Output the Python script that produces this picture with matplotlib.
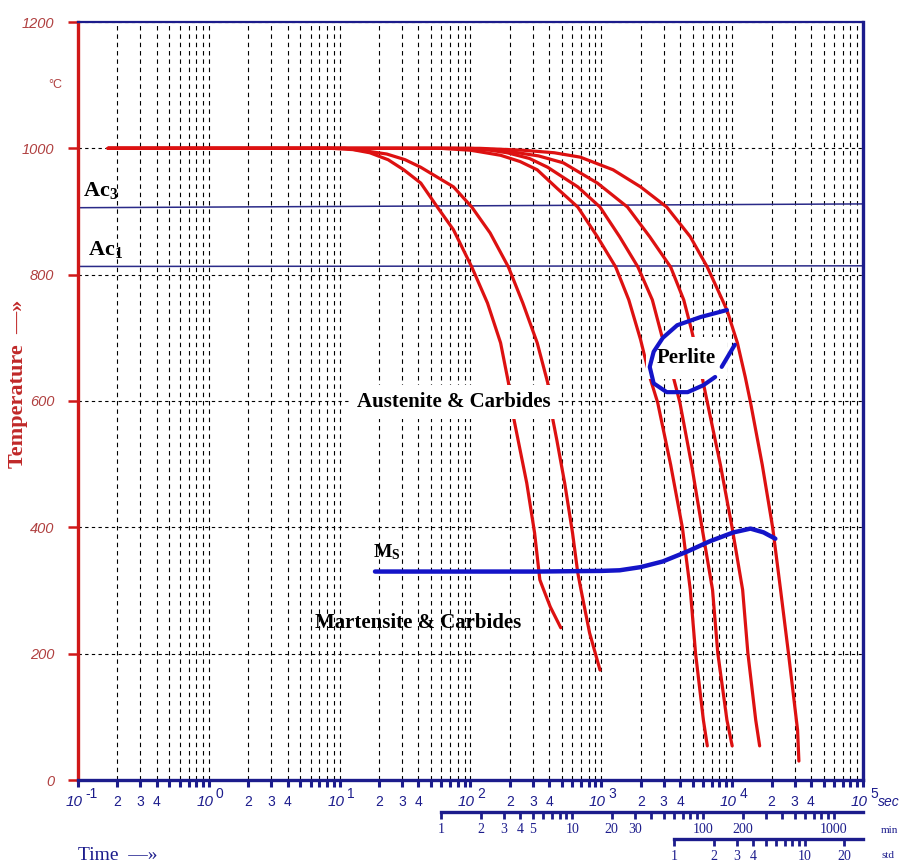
import numpy as np
import matplotlib
matplotlib.use("Agg")
import matplotlib.pyplot as plt
from matplotlib import transforms
from matplotlib.ticker import NullFormatter

plt.rcParams["mathtext.default"] = "regular"

# cooling curves: log10(time in s) and temperature in C
c1_log_t = [-0.77, 0.93, 1.10, 1.23, 1.37, 1.49, 1.62, 1.75, 1.87, 2.01, 2.13, 2.23, 2.29, 2.33, 2.43, 2.49, 2.53, 2.55, 2.61, 2.69]
c1_temp = [1000, 1000, 998, 993, 982, 966, 945, 906, 871, 812, 755, 692, 629, 573, 470, 391, 317, 306, 274, 241]

c2_log_t = [-0.77, 1.04, 1.16, 1.36, 1.50, 1.62, 1.87, 2.01, 2.15, 2.29, 2.40, 2.51, 2.59, 2.63, 2.66, 2.72, 2.78, 2.82, 2.84, 2.91, 2.99]
c2_temp = [1000, 1000, 997, 991, 982, 970, 939, 907, 866, 812, 755, 692, 629, 570, 538, 470, 391, 328, 306, 233, 174]

c3_log_t = [-0.77, 1.77, 2.00, 2.23, 2.38, 2.51, 2.66, 2.82, 2.97, 3.11, 3.21, 3.30, 3.37, 3.43, 3.53, 3.62, 3.68, 3.72, 3.78, 3.81]
c3_temp = [1000, 1000, 997, 989, 979, 966, 937, 907, 860, 812, 760, 697, 638, 598, 499, 399, 301, 201, 95, 54]

c4_log_t = [-0.77, 1.88, 2.15, 2.28, 2.45, 2.59, 2.82, 2.99, 3.14, 3.28, 3.39, 3.47, 3.55, 3.60, 3.69, 3.77, 3.85, 3.89, 3.96, 4.00]
c4_temp = [1000, 1000, 997, 993, 984, 970, 939, 907, 860, 812, 760, 697, 638, 598, 499, 399, 301, 201, 95, 54]

c5_log_t = [-0.77, 2.00, 2.23, 2.33, 2.52, 2.71, 2.97, 3.20, 3.37, 3.53, 3.63, 3.69, 3.77, 3.81, 3.91, 4.00, 4.08, 4.12, 4.18, 4.21]
c5_temp = [1000, 1000, 997, 994, 988, 977, 945, 907, 860, 812, 760, 712, 638, 598, 499, 399, 301, 201, 95, 54]

c6_log_t = [-0.77, 2.07, 2.40, 2.64, 2.84, 3.09, 3.30, 3.50, 3.68, 3.81, 3.89, 3.96, 4.04, 4.10, 4.14, 4.23, 4.31, 4.37, 4.43, 4.50, 4.51]
c6_temp = [1000, 1000, 997, 993, 986, 966, 939, 907, 860, 812, 776, 744, 692, 638, 598, 499, 399, 301, 201, 79, 30]

# Ms line and perlite boundary
ms_log_t = [1.27, 2.0, 2.5, 3.0, 3.14, 3.30, 3.47, 3.66, 3.83, 4.01, 4.14, 4.24, 4.33]
ms_temp = [330, 330, 330, 331, 332, 337, 346, 362, 378, 392, 398, 392, 382]

perlite_log_t = [3.96, 3.76, 3.58, 3.47, 3.40, 3.37, 3.40, 3.50, 3.66, 3.78, 3.87]
perlite_temp = [744, 733, 720, 700, 678, 654, 628, 614, 614, 625, 638]
perlite2_log_t = [3.92, 4.02]
perlite2_temp = [654, 689]

# Ac lines
ac_time = [0.1, 1e5]
ac3_temp = [906, 912]
ac1_temp = [813, 814]

y_ticks = [0, 200, 400, 600, 800, 1000, 1200]
decades = [-1, 0, 1, 2, 3, 4, 5]
min_major = [1, 2, 3, 4, 5, 10, 20, 30, 100, 200, 1000]
min_minor = [6, 7, 8, 9, 40, 50, 60, 70, 80, 90, 300, 400, 500, 600, 700, 800, 900]
std_major = [1, 2, 3, 4, 10, 20]
std_minor = [5, 6, 7, 8, 9]

RED = "#dd1111"
BLUE = "#1414c8"
NAVY = "#1c1c8c"
TICKRED = "#b04040"

fig = plt.figure(figsize=(9.06, 8.65), dpi=100)
ax = fig.add_axes([78 / 906, 1 - 780 / 865, 785 / 906, 758 / 865])
ax.set_xscale("log")
ax.set_xlim(0.1, 1e5)
ax.set_ylim(0, 1200)

# grid
ax.set_xticks([10.0 ** d for d in decades])
ax.set_xticks([m * 10.0 ** d for d in decades[:-1] for m in range(2, 10)], minor=True)
ax.xaxis.set_minor_formatter(NullFormatter())
ax.grid(True, which="both", axis="x", color="black", lw=0.8, ls=(0, (4, 3.5)))
ax.set_yticks(y_ticks, labels=[str(v) for v in y_ticks])
ax.grid(True, which="major", axis="y", color="black", lw=0.8, ls=(0, (3, 3)))

# spines
for side in ["top", "right", "bottom"]:
    ax.spines[side].set_color(NAVY)
ax.spines["top"].set_linewidth(1.6)
ax.spines["right"].set_linewidth(2.4)
ax.spines["bottom"].set_linewidth(2.4)
ax.spines["left"].set_color("#d01818")
ax.spines["left"].set_linewidth(2.4)

ax.tick_params(axis="x", which="both", direction="out", length=5, width=2.2,
               color=NAVY, labelbottom=False)
ax.tick_params(axis="y", direction="out", length=7, width=1.8, color="#d01818",
               pad=10, labelsize=10.5, labelcolor=TICKRED)
for lab in ax.get_yticklabels():
    lab.set_fontstyle("italic")
    lab.set_fontfamily("Liberation Sans")

# x tick labels drawn by hand: "10" with the exponent set off to the right
xtr = ax.get_xaxis_transform()
for d in decades:
    ax.text(10.0 ** d, -0.029, "10",
            transform=transforms.offset_copy(xtr, fig, x=-4, y=0, units="dots"),
            ha="center", va="center", fontsize=11, style="italic",
            family="Liberation Sans", color=NAVY)
    ax.text(10.0 ** d, -0.019, str(d),
            transform=transforms.offset_copy(xtr, fig, x=7, y=0, units="dots"),
            ha="left", va="center", fontsize=10, family="Liberation Sans", color=NAVY)
    if d < 5:
        for m in [2, 3, 4]:
            ax.text(m * 10.0 ** d, -0.029, str(m), transform=xtr, ha="center",
                    va="center", fontsize=10, family="Liberation Sans", color=NAVY)

ax.text(1.019, -0.029, "sec", transform=ax.transAxes, ha="left", va="center",
        fontsize=10, style="italic", family="Liberation Sans", color=NAVY)
ax.text(1.023, -0.066, "min", transform=ax.transAxes, ha="left", va="center",
        fontsize=8, family="Liberation Serif", color=NAVY)
ax.text(1.023, -0.100, "std", transform=ax.transAxes, ha="left", va="center",
        fontsize=8, family="Liberation Serif", color=NAVY)

# minute and hour scales under the time axis
sec_min = ax.secondary_xaxis(-0.0422, functions=(lambda s: s / 60.0, lambda m: m * 60.0))
sec_std = ax.secondary_xaxis(-0.0778, functions=(lambda s: s / 3600.0, lambda h: h * 3600.0))
for sax, major, minor, hi in [(sec_min, min_major, min_minor, 1e5 / 60.0),
                              (sec_std, std_major, std_minor, 1e5 / 3600.0)]:
    sax.set_xticks(major, labels=[str(v) for v in major])
    sax.set_xticks(minor, minor=True)
    sax.xaxis.set_minor_formatter(NullFormatter())
    sax.spines["bottom"].set_bounds(1, hi)
    sax.spines["bottom"].set_color(NAVY)
    sax.spines["bottom"].set_linewidth(2.4)
    sax.tick_params(axis="x", which="both", direction="out", length=5, width=2.0,
                    color=NAVY, pad=3, labelsize=10, labelcolor=NAVY)
    for lab in sax.get_xticklabels():
        lab.set_fontfamily("Liberation Serif")

# Ac lines
ax.plot(ac_time, ac3_temp, color="#2a2a88", lw=1.1, zorder=2)
ax.plot(ac_time, ac1_temp, color="#2a2a88", lw=1.1, zorder=2)

# cooling curves
for lt, temp in [(c1_log_t, c1_temp), (c2_log_t, c2_temp), (c3_log_t, c3_temp),
                 (c4_log_t, c4_temp), (c5_log_t, c5_temp), (c6_log_t, c6_temp)]:
    ax.plot(10.0 ** np.array(lt), temp, color=RED, lw=2.3, zorder=3,
            solid_capstyle="round", solid_joinstyle="round")

ax.plot(10.0 ** np.array(ms_log_t), ms_temp, color=BLUE, lw=3.2, zorder=5,
        solid_capstyle="round")
ax.plot(10.0 ** np.array(perlite_log_t), perlite_temp, color=BLUE, lw=3.0, zorder=5,
        solid_capstyle="round")
ax.plot(10.0 ** np.array(perlite2_log_t), perlite2_temp, color=BLUE, lw=3.0, zorder=5,
        solid_capstyle="round")

# region labels
lbl = dict(family="Liberation Serif", weight="bold", color="black")
box = dict(facecolor="white", edgecolor="none", pad=5)
ax.text(74, 598, "Austenite & Carbides", ha="center", va="center", fontsize=15,
        bbox=box, zorder=4, **lbl)
ax.text(40, 249, "Martensite & Carbides", ha="center", va="center", fontsize=15,
        zorder=4, **lbl)
ax.text(4470, 668, "Perlite", ha="center", va="center", fontsize=15,
        bbox=dict(facecolor="white", edgecolor="none", pad=8), zorder=4, **lbl)
ax.text(18, 353, "M$_S$", ha="left", va="baseline", fontsize=14, zorder=4, **lbl)
ax.text(0.11, 924, "Ac$_3$", ha="left", va="baseline", fontsize=16, zorder=4, **lbl)
ax.text(0.12, 831, "Ac$_1$", ha="left", va="baseline", fontsize=16, zorder=4, **lbl)

ax.text(-0.029, 0.917, "°C", transform=ax.transAxes, ha="center", va="center",
        fontsize=9, color=TICKRED, family="Liberation Sans")

fig.text(18 / 906, 1 - 384 / 865, "Temperature  —»", rotation=90, ha="center",
         va="center", fontsize=16, weight="bold", family="Liberation Serif",
         color="#c02828")
fig.text(78 / 906, 1 - 856 / 865, "Time  —»", ha="left", va="center", fontsize=14,
         family="Liberation Serif", color=NAVY)

fig.savefig("out.png", dpi=100, facecolor="white")
